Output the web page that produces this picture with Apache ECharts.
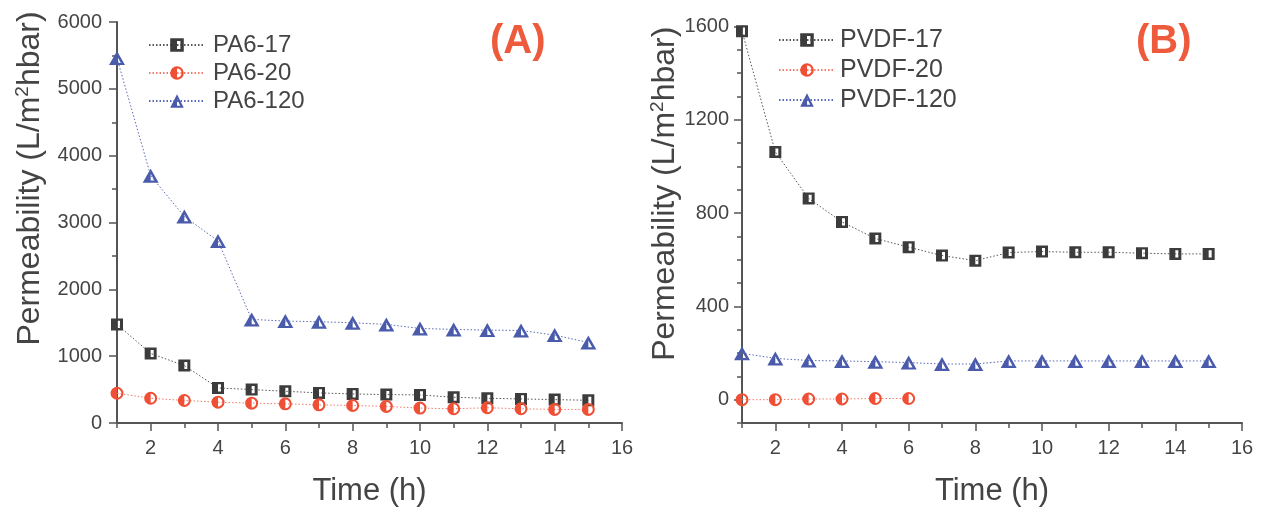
<!DOCTYPE html>
<html>
<head>
<meta charset="utf-8">
<title>Permeability vs time</title>
<script src="https://cdn.jsdelivr.net/npm/echarts@6.0.0/dist/echarts.min.js"></script>
<style>
  html, body { margin: 0; padding: 0; background: #fff; }
  #chart { width: 1263px; height: 512px; }
</style>
</head>
<body>
<div id="chart"></div>
<script>
// data
var hours = [1, 2, 3, 4, 5, 6, 7, 8, 9, 10, 11, 12, 13, 14, 15];
var pa6_17 = [1475, 1040, 860, 525, 500, 475, 450, 435, 425, 420, 385, 370, 360, 350, 340];
var pa6_20 = [445, 370, 337, 312, 297, 287, 272, 262, 248, 223, 213, 228, 213, 203, 203];
var pa6_120 = [5460, 3700, 3090, 2725, 1550, 1525, 1515, 1500, 1475, 1415, 1400, 1390, 1385, 1315, 1205];

var pvdf_17 = [1580, 1062, 863, 762, 691, 654, 618, 596, 631, 635, 632, 632, 628, 625, 625];
var pvdf20Hours = [1, 2, 3, 4, 5, 6];
var pvdf_20 = [0, 0, 3, 3, 5, 5];
var pvdf_120 = [199, 177, 168, 166, 163, 159, 153, 153, 166, 166, 166, 166, 166, 166, 166];

var xTickLabels = [2, 4, 6, 8, 10, 12, 14, 16];
var rightYTickLabels = [0, 400, 800, 1200, 1600];

function pairs(xs, ys) {
  return xs.map(function (x, i) { return [x, ys[i]]; });
}

var FONT = 'Liberation Sans, Arial, sans-serif';
var AXIS = '#555';
var TEXT = '#444';

// half filled markers (hole = white part)
var SQUARE = 'path://M0 0H10V10H0Z M5 2V8H7.5V2Z';
var CIRCLE = 'path://M0 5A5 5 0 1 1 10 5A5 5 0 1 1 0 5Z M5 1.6V8.4A3.4 3.4 0 0 0 5 1.6Z';
var TRIANGLE = 'path://M5 0L10 9H0Z M5 3.2V7.6H7.4Z';

var BLACK = '#3c3c3c';
var RED = '#ef4f35';
var BLUE = '#4a5bab';

var yName = 'Permeability (L/m{sup|2}hbar)';
function yNameStyle(shift) {
  return {
    fontSize: 32,
    color: TEXT,
    fontFamily: FONT,
    lineHeight: 34,
    padding: [0, 0, 0, shift],
    rich: {
      sup: { fontSize: 19, verticalAlign: 'top', lineHeight: 34, color: TEXT, fontFamily: FONT }
    }
  };
}

function plain(v) { return String(v); }

function mainX(gridIndex) {
  return {
    type: 'value', gridIndex: gridIndex, min: 1, max: 16, position: 'bottom',
    name: 'Time (h)', nameLocation: 'middle', nameGap: 53, nameMoveOverlap: false,
    nameTextStyle: { fontSize: 31, color: TEXT, fontFamily: FONT },
    axisLine: { onZero: false, lineStyle: { color: AXIS, width: 2 } },
    axisTick: { customValues: xTickLabels, length: 8, lineStyle: { color: AXIS, width: 1.5 } },
    axisLabel: { customValues: xTickLabels, fontSize: 20, color: TEXT, margin: 15, fontFamily: FONT },
    splitLine: { show: false }
  };
}
// short ticks only
function minorX(gridIndex) {
  return {
    type: 'value', gridIndex: gridIndex, min: 1, max: 16, interval: 1, position: 'bottom',
    axisLine: { show: false, onZero: false },
    axisTick: { show: true, length: 5, lineStyle: { color: AXIS, width: 1.5 } },
    axisLabel: { show: false },
    splitLine: { show: false }
  };
}
function minorY(gridIndex, min, max, step) {
  return {
    type: 'value', gridIndex: gridIndex, min: min, max: max, interval: step, position: 'left',
    axisLine: { show: false },
    axisTick: { show: true, length: 5, lineStyle: { color: AXIS, width: 1.5 } },
    axisLabel: { show: false },
    splitLine: { show: false }
  };
}

function lineSeries(name, data, xi, yi, symbol, size, color, lineColor) {
  return {
    name: name, type: 'line', xAxisIndex: xi, yAxisIndex: yi,
    data: data, symbol: symbol, symbolSize: size,
    itemStyle: { color: color },
    lineStyle: { color: lineColor, width: 1, type: [1.5, 2] },
    clip: true
  };
}

var myChart = echarts.init(document.getElementById('chart'));

var option = {
  animation: false,
  backgroundColor: '#fff',
  textStyle: { fontFamily: FONT },
  title: [
    { text: '(A)', left: 485, top: 17, textStyle: { color: '#ee5a3c', fontSize: 40, fontWeight: 'bold', fontFamily: FONT } },
    { text: '(B)', left: 1131, top: 17, textStyle: { color: '#ee5a3c', fontSize: 40, fontWeight: 'bold', fontFamily: FONT } }
  ],
  legend: [
    {
      orient: 'vertical', left: 143, top: 26, itemWidth: 56, itemHeight: 17, itemGap: 0,
      data: ['PA6-17', 'PA6-20', 'PA6-120'],
      textStyle: { fontSize: 24, lineHeight: 28, color: TEXT, fontFamily: FONT, padding: [0, 0, 0, 3] }
    },
    {
      orient: 'vertical', left: 773, top: 20, itemWidth: 56, itemHeight: 17, itemGap: 0,
      data: ['PVDF-17', 'PVDF-20', 'PVDF-120'],
      textStyle: { fontSize: 25, lineHeight: 30, color: TEXT, fontFamily: FONT }
    }
  ],
  grid: [
    { left: 117, top: 22, width: 505, height: 404 },
    { left: 742, top: 26.5, width: 500, height: 401.5 }
  ],
  xAxis: [mainX(0), minorX(0), mainX(1), minorX(1)],
  yAxis: [
    {
      type: 'value', gridIndex: 0, min: 0, max: 6000, interval: 1000, position: 'left',
      name: yName, nameLocation: 'middle', nameGap: 70, nameMoveOverlap: false, nameTextStyle: yNameStyle(88),
      axisLine: { show: true, onZero: false, lineStyle: { color: AXIS, width: 2 } },
      axisTick: { show: true, length: 8, lineStyle: { color: AXIS, width: 1.5 } },
      axisLabel: { fontSize: 20, color: TEXT, margin: 15, fontFamily: FONT, formatter: plain },
      splitLine: { show: false }
    },
    {
      type: 'value', gridIndex: 1, min: -100, max: 1600, position: 'left',
      name: yName, nameLocation: 'middle', nameGap: 60, nameMoveOverlap: false, nameTextStyle: yNameStyle(62),
      axisLine: { show: true, onZero: false, lineStyle: { color: AXIS, width: 2 } },
      axisTick: { show: true, customValues: rightYTickLabels, length: 8, lineStyle: { color: AXIS, width: 1.5 } },
      axisLabel: { customValues: rightYTickLabels, fontSize: 20, color: TEXT, margin: 13, fontFamily: FONT, formatter: plain },
      splitLine: { show: false }
    },
    minorY(0, 0, 6000, 500),
    minorY(1, -100, 1600, 100)
  ],
  series: [
    lineSeries('PA6-17', pairs(hours, pa6_17), 0, 0, SQUARE, 12, BLACK, '#555'),
    lineSeries('PA6-20', pairs(hours, pa6_20), 0, 0, CIRCLE, 13, RED, '#f37b6b'),
    lineSeries('PA6-120', pairs(hours, pa6_120), 0, 0, TRIANGLE, [16, 14], BLUE, '#5a6ab8'),
    lineSeries('PVDF-17', pairs(hours, pvdf_17), 2, 1, SQUARE, 12, BLACK, '#555'),
    lineSeries('PVDF-20', pairs(pvdf20Hours, pvdf_20), 2, 1, CIRCLE, 13, RED, '#f37b6b'),
    lineSeries('PVDF-120', pairs(hours, pvdf_120), 2, 1, TRIANGLE, [16, 14], BLUE, '#5a6ab8')
  ]
};

myChart.setOption(option);
</script>
</body>
</html>
